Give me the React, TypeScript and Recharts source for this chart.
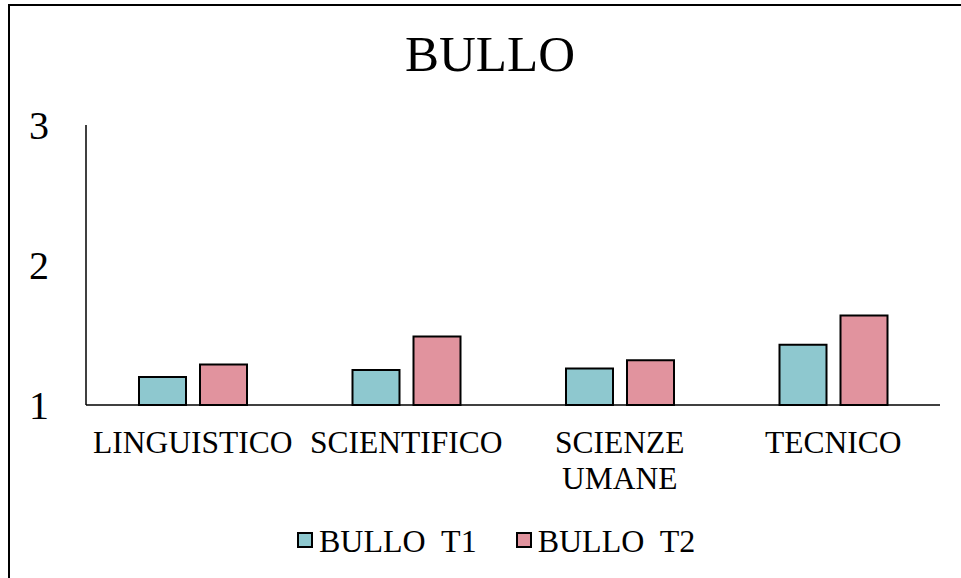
import React from 'react';
import { BarChart, Bar, XAxis, YAxis } from 'recharts';

const categories = ['LINGUISTICO', 'SCIENTIFICO', 'SCIENZE UMANE', 'TECNICO'];
const bulloT1 = [1.2, 1.25, 1.26, 1.43];
const bulloT2 = [1.29, 1.49, 1.32, 1.64];
const yTicks = [1, 2, 3];

const seriesNames = ['BULLO T1', 'BULLO T2'];
const seriesColors = ['#8EC8CF', '#E1939E'];

const FONT = '"Liberation Serif", "Times New Roman", serif';

const data = categories.map((c, i) => ({ name: c, t1: bulloT1[i], t2: bulloT2[i] }));

// wrap long labels onto two lines, like the spreadsheet did
const CategoryTick = (props: any) => {
  const { x, y, payload } = props;
  const label: string = payload.value;
  const lines = label.length > 12 ? label.split(' ') : [label];
  return (
    <text x={x} y={y + 48} textAnchor="middle" fontFamily={FONT} fontSize={31.5} fill="#000">
      {lines.map((l, i) => (
        <tspan key={i} x={x} dy={i === 0 ? 0 : 36}>
          {l}
        </tspan>
      ))}
    </text>
  );
};

export default function App() {
  return (
    <div
      style={{
        position: 'absolute',
        left: 0,
        top: 0,
        width: 961,
        height: 578,
        background: '#fff',
        overflow: 'hidden',
        fontFamily: FONT,
      }}
    >
      <div
        style={{
          position: 'absolute',
          left: 8,
          top: 4,
          width: 990,
          height: 620,
          border: '2px solid #000',
        }}
      />
      <div
        style={{
          position: 'absolute',
          left: 340,
          top: 29,
          width: 300,
          textAlign: 'center',
          fontSize: 51,
          lineHeight: '51px',
          color: '#000',
        }}
      >
        BULLO
      </div>
      <div style={{ position: 'absolute', left: 0, top: 0 }}>
        <BarChart
          width={961}
          height={578}
          data={data}
          margin={{ top: 125, right: 21, bottom: 83, left: 0 }}
          barSize={47}
          barGap={14}
        >
          <XAxis
            dataKey="name"
            height={90}
            tickSize={0}
            tickMargin={0}
            tickLine={false}
            axisLine={{ stroke: '#000', strokeWidth: 1.5 }}
            tick={<CategoryTick />}
            interval={0}
          />
          <YAxis
            width={86}
            domain={[1, 3]}
            ticks={yTicks}
            tickSize={0}
            tickMargin={37}
            tickLine={false}
            axisLine={{ stroke: '#000', strokeWidth: 1.5 }}
            tick={{ fill: '#000', fontSize: 40, fontFamily: FONT }}
          />
          <Bar dataKey="t1" name={seriesNames[0]} fill={seriesColors[0]} stroke="#000" strokeWidth={2} isAnimationActive={false} />
          <Bar dataKey="t2" name={seriesNames[1]} fill={seriesColors[1]} stroke="#000" strokeWidth={2} isAnimationActive={false} />
        </BarChart>
      </div>
      <div style={{ position: 'absolute', left: 297, top: 525, display: 'flex', alignItems: 'center' }}>
        {seriesNames.map((n, i) => (
          <div key={n} style={{ display: 'flex', alignItems: 'center', marginRight: i === 0 ? 39 : 0 }}>
            <div
              style={{
                width: 16,
                height: 16,
                boxSizing: 'border-box',
                border: '2px solid #000',
                background: seriesColors[i],
                marginTop: -2,
              }}
            />
            <span style={{ marginLeft: 6, fontSize: 32, lineHeight: '32px', whiteSpace: 'pre', color: '#000' }}>
              {n.replace(' ', '  ')}
            </span>
          </div>
        ))}
      </div>
    </div>
  );
}
